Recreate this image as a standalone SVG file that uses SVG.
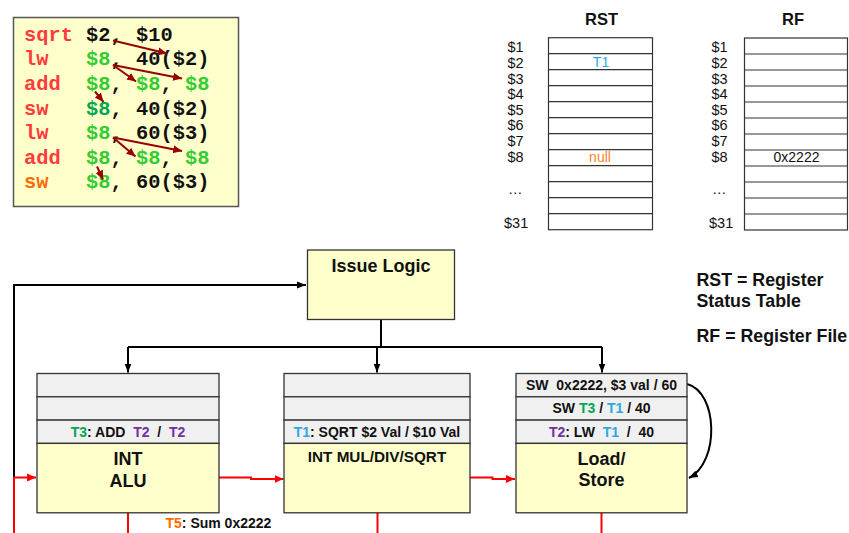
<svg xmlns="http://www.w3.org/2000/svg" width="849" height="533" viewBox="0 0 849 533">
  <style>
    .code { font-family: "Liberation Mono", "Courier New", monospace; font-weight: bold; font-size: 20.4px; }
    .op { fill: #ff3b3b; }
    .g { fill: #33cc33; }
    .k { fill: #111; }
    .sans { font-family: "Liberation Sans", Arial, Helvetica, sans-serif; }
    .b { font-weight: bold; }
    .lbl { font-family: "Liberation Sans", Arial, sans-serif; font-size: 14.5px; fill: #111; }
    .tbl { fill: #fff; stroke: #333; stroke-width: 1.2; }
    .row { stroke: #333; stroke-width: 1.2; }
    .q { fill: #f0f0f0; stroke: #333; stroke-width: 1.3; }
    .unit { fill: #ffffcc; stroke: #333; stroke-width: 1.3; }
    .qt { font-family: "Liberation Sans", Arial, sans-serif; font-weight: bold; font-size: 14px; fill: #111; text-anchor: middle; }
    .ut { font-family: "Liberation Sans", Arial, sans-serif; font-weight: bold; font-size: 18px; fill: #111; text-anchor: middle; }
    .blk { fill: none; stroke: #000; stroke-width: 2; }
    .red { fill: none; stroke: #ff0000; stroke-width: 2; }
    .dep { fill: none; stroke: #990000; stroke-width: 2; }
    .cy { fill: #29abe2; }
    .pu { fill: #7030a0; }
    .gr { fill: #00a651; }
  </style>
  <defs>
    <marker id="ahBlack" markerUnits="userSpaceOnUse" markerWidth="10" markerHeight="10" refX="9" refY="5" orient="auto">
      <path d="M0,1.5 L9,5 L0,8.5 Z" fill="#000"/>
    </marker>
    <marker id="ahRed" markerUnits="userSpaceOnUse" markerWidth="10" markerHeight="10" refX="9" refY="5" orient="auto">
      <path d="M0,1 L9,5 L0,9 Z" fill="#ff0000"/>
    </marker>
    <marker id="ahDep" markerUnits="userSpaceOnUse" markerWidth="10" markerHeight="10" refX="9" refY="5" orient="auto">
      <path d="M0,1 L9,5 L0,9 Z" fill="#990000"/>
    </marker>
  </defs>

  <!-- instruction sequence -->
  <g id="code">
    <rect x="13.5" y="17.5" width="225" height="189" fill="#ffffcc" stroke="#555" stroke-width="1.5"/>
    <text class="code" y="40.7"><tspan class="op" x="24">sqrt</tspan><tspan class="k" x="86">$2,</tspan><tspan class="k" x="136">$10</tspan></text>
    <text class="code" y="65.3"><tspan class="op" x="24">lw</tspan><tspan class="g" x="86">$8</tspan><tspan class="k" x="110.6">,</tspan><tspan class="k" x="136">40($2)</tspan></text>
    <text class="code" y="90"><tspan class="op" x="24">add</tspan><tspan class="g" x="86">$8</tspan><tspan class="k" x="110.6">,</tspan><tspan class="g" x="136">$8</tspan><tspan class="k" x="160.5">,</tspan><tspan class="g" x="185">$8</tspan></text>
    <text class="code" y="114.5"><tspan class="op" x="24">sw</tspan><tspan class="gr" x="86">$8</tspan><tspan class="k" x="110.6">,</tspan><tspan class="k" x="136">40($2)</tspan></text>
    <text class="code" y="139"><tspan class="op" x="24">lw</tspan><tspan class="g" x="86">$8</tspan><tspan class="k" x="110.6">,</tspan><tspan class="k" x="136">60($3)</tspan></text>
    <text class="code" y="163.5"><tspan class="op" x="24">add</tspan><tspan class="g" x="86">$8</tspan><tspan class="k" x="110.6">,</tspan><tspan class="g" x="136">$8</tspan><tspan class="k" x="160.5">,</tspan><tspan class="g" x="185">$8</tspan></text>
    <text class="code" y="188"><tspan fill="#ff6a00" x="24">sw</tspan><tspan class="g" x="86">$8</tspan><tspan class="k" x="110.6">,</tspan><tspan class="k" x="136">60($3)</tspan></text>
    <!-- dependence arrows -->
    <g id="deps">
      <line class="dep" x1="113" y1="40.5" x2="167" y2="53.5" marker-end="url(#ahDep)"/>
      <line class="dep" x1="113" y1="65" x2="136" y2="81.5" marker-end="url(#ahDep)"/>
      <line class="dep" x1="113" y1="65" x2="182" y2="78.5" marker-end="url(#ahDep)"/>
      <line class="dep" x1="95" y1="91.5" x2="103.5" y2="102" marker-end="url(#ahDep)"/>
      <line class="dep" x1="113" y1="137.5" x2="135.5" y2="156.5" marker-end="url(#ahDep)"/>
      <line class="dep" x1="113" y1="137.5" x2="182" y2="151" marker-end="url(#ahDep)"/>
      <line class="dep" x1="97" y1="166.5" x2="103" y2="179.5" marker-end="url(#ahDep)"/>
    </g>
  </g>

  <!-- register status table -->
  <g id="rst">
    <text class="sans b" x="601.5" y="25" font-size="16.5" text-anchor="middle" fill="#111">RST</text>
    <rect class="tbl" x="548.5" y="37.7" width="104" height="192"/>
    <path class="row" d="M548.5,53.7H652.5M548.5,69.7H652.5M548.5,85.7H652.5M548.5,101.7H652.5M548.5,117.7H652.5M548.5,133.7H652.5M548.5,149.7H652.5M548.5,165.7H652.5M548.5,181.7H652.5M548.5,197.7H652.5M548.5,213.7H652.5"/>
    <g class="lbl">
      <text x="507.5" y="52.3">$1</text>
      <text x="507.5" y="67.9">$2</text>
      <text x="507.5" y="83.5">$3</text>
      <text x="507.5" y="99.1">$4</text>
      <text x="507.5" y="114.7">$5</text>
      <text x="507.5" y="130.3">$6</text>
      <text x="507.5" y="145.9">$7</text>
      <text x="507.5" y="161.5">$8</text>
      <text x="508" y="194">…</text>
      <text x="504" y="228">$31</text>
    </g>
    <text class="sans" x="601" y="67" font-size="14" text-anchor="middle" fill="#29abe2">T1</text>
    <text class="sans" x="600" y="161.7" font-size="14" text-anchor="middle" fill="#ff7f27">null</text>
  </g>

  <!-- register file -->
  <g id="rf">
    <text class="sans b" x="793" y="25" font-size="16.5" text-anchor="middle" fill="#111">RF</text>
    <rect class="tbl" x="744.5" y="38" width="103" height="192"/>
    <path class="row" d="M744.5,54H847.5M744.5,70H847.5M744.5,86H847.5M744.5,102H847.5M744.5,118H847.5M744.5,134H847.5M744.5,150H847.5M744.5,166H847.5M744.5,182H847.5M744.5,198H847.5M744.5,214H847.5"/>
    <g class="lbl">
      <text x="711.5" y="52.3">$1</text>
      <text x="711.5" y="67.9">$2</text>
      <text x="711.5" y="83.5">$3</text>
      <text x="711.5" y="99.1">$4</text>
      <text x="711.5" y="114.7">$5</text>
      <text x="711.5" y="130.3">$6</text>
      <text x="711.5" y="145.9">$7</text>
      <text x="711.5" y="161.5">$8</text>
      <text x="712" y="194">…</text>
      <text x="709" y="228">$31</text>
    </g>
    <text class="sans" x="796.5" y="161.7" font-size="14" text-anchor="middle" fill="#111">0x2222</text>
  </g>

  <!-- legend -->
  <g id="legend" class="sans b" font-size="17.8" fill="#111">
    <text x="696.5" y="285.7">RST = Register</text>
    <text x="696.5" y="306.7">Status Table</text>
    <text x="696.5" y="341.7">RF = Register File</text>
  </g>

  <!-- connectors -->
  <g id="connectors">
    <path class="blk" d="M14,478V285H306" marker-end="url(#ahBlack)"/>
    <path class="blk" d="M381,319.5V347"/>
    <path class="blk" d="M128,347H602"/>
    <path class="blk" d="M128,347V372.5" marker-end="url(#ahBlack)"/>
    <path class="blk" d="M377,347V372.5" marker-end="url(#ahBlack)"/>
    <path class="blk" d="M602,347V372.5" marker-end="url(#ahBlack)"/>
    <path class="blk" d="M687,384C718,392 720,462 689,478" marker-end="url(#ahBlack)"/>
    <path class="red" d="M14,533V477.5H36" marker-end="url(#ahRed)"/>
    <path class="red" d="M219,477.5H251V479H283.5" marker-end="url(#ahRed)"/>
    <path class="red" d="M470,477.5H492.5V479H515" marker-end="url(#ahRed)"/>
    <path class="red" d="M128,513V533"/>
    <path class="red" d="M377.5,513V533"/>
    <path class="red" d="M601.5,513V533"/>
  </g>

  <!-- issue logic -->
  <g id="issue-logic">
    <rect class="unit" x="307.5" y="250" width="147" height="69.5"/>
    <text class="ut" x="381" y="271.5">Issue Logic</text>
  </g>

  <!-- integer ALU with reservation queue -->
  <g id="int-alu">
    <rect class="q" x="37" y="373.5" width="182" height="23.3"/>
    <rect class="q" x="37" y="396.8" width="182" height="23.3"/>
    <rect class="q" x="37" y="420.1" width="182" height="23.3"/>
    <rect class="unit" x="37" y="443.4" width="182" height="69.4"/>
    <text class="qt" x="128" y="436.7" xml:space="preserve"><tspan class="gr">T3</tspan>: ADD  <tspan class="pu">T2</tspan>  /  <tspan class="pu">T2</tspan></text>
    <text class="ut" x="128" y="465">INT</text>
    <text class="ut" x="128" y="486.5">ALU</text>
  </g>

  <!-- multiply / divide / sqrt unit -->
  <g id="int-muldiv">
    <rect class="q" x="284" y="373.5" width="186" height="23.3"/>
    <rect class="q" x="284" y="396.8" width="186" height="23.3"/>
    <rect class="q" x="284" y="420.1" width="186" height="23.3"/>
    <rect class="unit" x="284" y="443.4" width="186" height="69.4"/>
    <text class="qt" x="377" y="436.7"><tspan class="cy">T1</tspan>: SQRT $2 Val / $10 Val</text>
    <text class="ut" x="377" y="461.5" style="font-size:15.3px">INT MUL/DIV/SQRT</text>
  </g>

  <!-- load / store unit -->
  <g id="load-store">
    <rect class="q" x="516" y="373.5" width="171" height="23.3"/>
    <rect class="q" x="516" y="396.8" width="171" height="23.3"/>
    <rect class="q" x="516" y="420.1" width="171" height="23.3"/>
    <rect class="unit" x="516" y="443.4" width="171" height="69.4"/>
    <text class="qt" x="601.5" y="389.5" xml:space="preserve">SW  0x2222, $3 val / 60</text>
    <text class="qt" x="601.5" y="413.3">SW <tspan class="gr">T3</tspan> / <tspan class="cy">T1</tspan> / 40</text>
    <text class="qt" x="601.5" y="436.7" xml:space="preserve"><tspan class="pu">T2</tspan>: LW  <tspan class="cy">T1</tspan>  /  40</text>
    <text class="ut" x="601.5" y="465">Load/</text>
    <text class="ut" x="601.5" y="485.5">Store</text>
  </g>

  <!-- result broadcast -->
  <g id="result">
    <text class="sans b" x="165.5" y="528.3" font-size="14" fill="#111"><tspan fill="#ff6a00">T5</tspan>: Sum 0x2222</text>
  </g>
</svg>
